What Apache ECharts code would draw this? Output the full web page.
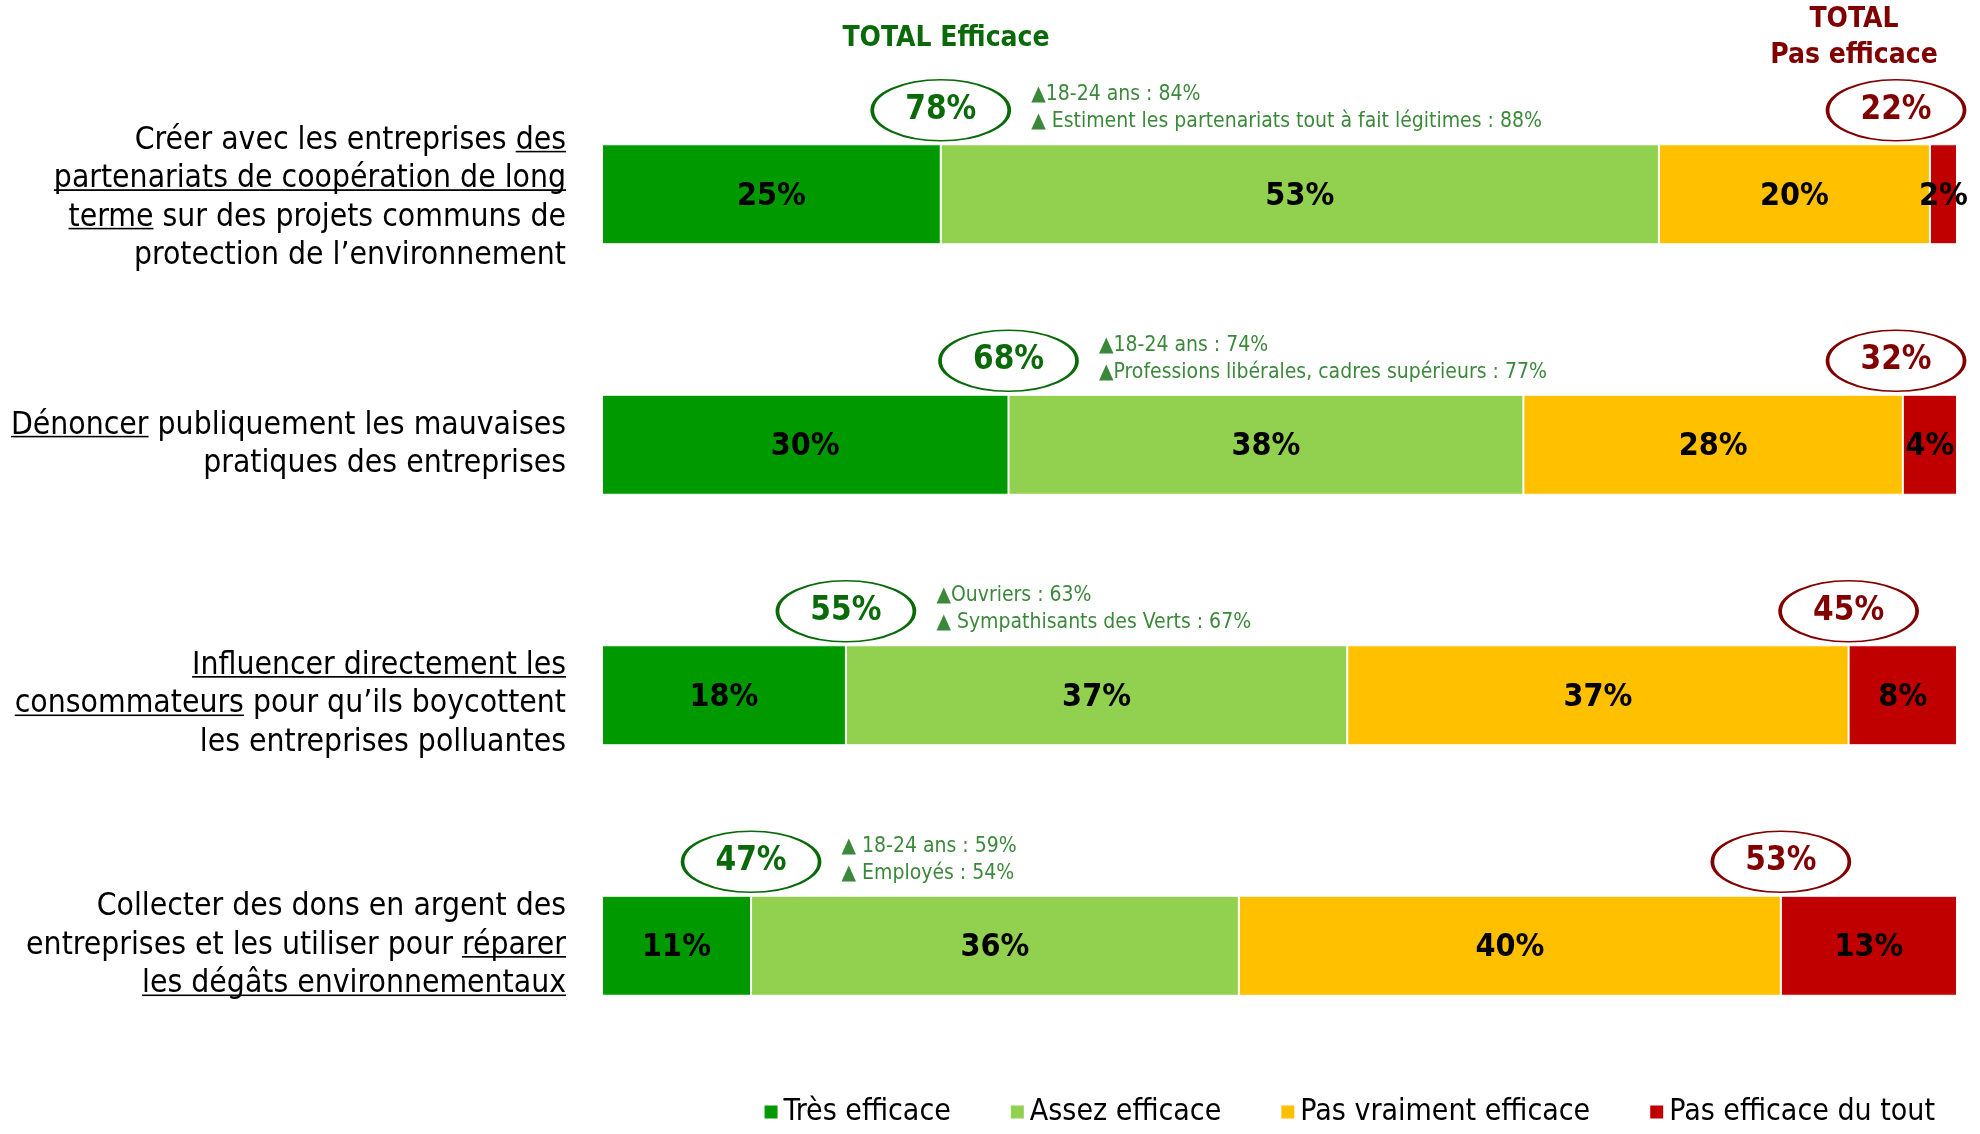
<!DOCTYPE html>
<html><head><meta charset="utf-8">
<script src="https://cdn.jsdelivr.net/npm/echarts@6/dist/echarts.min.js"></script>
<style>html,body{margin:0;padding:0;background:#fff}#c{width:1980px;height:1134px}</style>
</head><body><div id="c"></div>
<script>
// ---- data ----
// [text] marks underlined parts
const categories = [
  "Créer avec les entreprises [des]\n[partenariats de coopération de long]\n[terme] sur des projets communs de\nprotection de l’environnement",
  "[Dénoncer] publiquement les mauvaises\npratiques des entreprises",
  "[Influencer directement les]\n[consommateurs] pour qu’ils boycottent\nles entreprises polluantes",
  "Collecter des dons en argent des\nentreprises et les utiliser pour [réparer]\n[les dégâts environnementaux]"
];
const seriesNames = ["Très efficace", "Assez efficace", "Pas vraiment efficace", "Pas efficace du tout"];
const tresEfficace = [25, 30, 18, 11];
const assezEfficace = [53, 38, 37, 36];
const pasVraimentEfficace = [20, 28, 37, 40];
const pasEfficaceDuTout = [2, 4, 8, 13];
const totalEfficace = [78, 68, 55, 47];
const totalPasEfficace = [22, 32, 45, 53];
const annotations = [
  ["▲18-24 ans : 84%", "▲ Estiment les partenariats tout à fait légitimes : 88%"],
  ["▲18-24 ans : 74%", "▲Professions libérales, cadres supérieurs : 77%"],
  ["▲Ouvriers : 63%", "▲ Sympathisants des Verts : 67%"],
  ["▲ 18-24 ans : 59%", "▲ Employés : 54%"]
];
const headingEfficace = "TOTAL Efficace";
const headingPasEfficace = "TOTAL\nPas efficace";

// ---- styles ----
const FONT = "'DejaVu Sans Condensed', 'DejaVu Sans', sans-serif";
const colors = ["#009900", "#92D050", "#FFC000", "#C00000"];
const GREEN = "#0a6a0a";
const DARKRED = "#800000";
const labelNudge = [8, 0, 18, 0]; // top padding of each category label (layout only)

const ul = document.createElement('canvas');
ul.width = 8; ul.height = 39;
const uctx = ul.getContext('2d');
uctx.fillStyle = '#000';
uctx.fillRect(0, 32, 8, 2);

function toRich(cat) {
  return cat.split('\n').map(line => {
    const parts = line.split(/\[([^\]]*)\]/);
    let out = '';
    parts.forEach((p, k) => {
      if (!p) return;
      out += (k % 2 === 1 ? '{u|' : '{n|') + p + '}';
    });
    return out;
  }).join('\n');
}

const chart = echarts.init(document.getElementById('c'), null, {renderer: 'canvas'});

const barSeries = [tresEfficace, assezEfficace, pasVraimentEfficace, pasEfficaceDuTout].map((vals, k) => ({
  type: 'bar',
  name: seriesNames[k],
  stack: 'total',
  barWidth: 100,
  data: vals,
  itemStyle: {color: colors[k], borderColor: '#ffffff', borderWidth: 1},
  label: {
    show: true, position: 'inside', formatter: p => p.value + '%', offset: [0, 2],
    fontFamily: FONT, fontSize: 32, fontWeight: 'bold', color: '#000'
  },
  emphasis: {disabled: true},
  animation: false
}));

const ellipsePath = 'path://M0,30 A68,30 0 1,1 136,30 A68,30 0 1,1 0,30 Z';

const greenEllipses = {
  type: 'scatter',
  data: categories.map((c, i) => [tresEfficace[i], i]),
  symbol: ellipsePath,
  symbolSize: [137, 61],
  symbolOffset: [0, -84],
  itemStyle: {color: '#ffffff', borderColor: GREEN, borderWidth: 2.5, opacity: 1},
  label: {
    show: true, position: 'inside', formatter: p => totalEfficace[p.dataIndex] + '%',
    fontFamily: FONT, fontSize: 33, fontWeight: 'bold', color: GREEN
  },
  emphasis: {disabled: true},
  silent: true, animation: false, z: 5
};

const redEllipses = {
  type: 'scatter',
  data: categories.map((c, i) => [Math.min(100 - pasEfficaceDuTout[i], 95.5), i]),
  symbol: ellipsePath,
  symbolSize: [137, 61],
  symbolOffset: [0, -84],
  itemStyle: {color: '#ffffff', borderColor: DARKRED, borderWidth: 2.5, opacity: 1},
  label: {
    show: true, position: 'inside', formatter: p => totalPasEfficace[p.dataIndex] + '%',
    fontFamily: FONT, fontSize: 33, fontWeight: 'bold', color: DARKRED
  },
  emphasis: {disabled: true},
  silent: true, animation: false, z: 5
};

const annotSeries = {
  type: 'scatter',
  data: categories.map((c, i) => [tresEfficace[i], i]),
  symbol: 'rect',
  symbolSize: 1,
  symbolOffset: [0, -86],
  itemStyle: {color: 'rgba(0,0,0,0)'},
  label: {
    show: true, position: 'right', distance: 90,
    formatter: p => annotations[p.dataIndex].join('\n'),
    fontFamily: FONT, fontSize: 21, lineHeight: 27, color: GREEN, align: 'left', verticalAlign: 'middle'
  },
  emphasis: {disabled: true},
  silent: true, animation: false, z: 5
};

chart.setOption({
  animation: false,
  backgroundColor: '#ffffff',
  grid: {left: 602, right: 23, top: 69, bottom: 63, containLabel: false},
  xAxis: {
    type: 'value', min: 0, max: 100, show: false
  },
  yAxis: {
    type: 'category', inverse: true,
    data: categories.map((c, i) => ({value: c, textStyle: {padding: [labelNudge[i], 0, 0, 0]}})),
    axisLine: {show: false}, axisTick: {show: false}, splitLine: {show: false},
    axisLabel: {
      interval: 0, margin: 36, align: 'right',
      formatter: v => toRich(v),
      rich: {
        n: {fontFamily: FONT, fontSize: 31.6, lineHeight: 38.5, color: '#000'},
        u: {fontFamily: FONT, fontSize: 31.6, lineHeight: 38.5, color: '#000', backgroundColor: {image: ul}}
      }
    }
  },
  legend: {
    data: seriesNames,
    right: 40, top: 1092,
    icon: 'rect', itemWidth: 15, itemHeight: 15, itemGap: 58,
    textStyle: {fontFamily: FONT, fontSize: 30, color: '#000'},
    selectedMode: false
  },
  graphic: [
    {type: 'text', x: 946, y: 39, style: {text: headingEfficace, fontFamily: FONT, fontSize: 28, fontWeight: 'bold', fill: GREEN, textAlign: 'center', textVerticalAlign: 'middle'}},
    {type: 'text', x: 1854, y: 38, style: {text: headingPasEfficace, fontFamily: FONT, fontSize: 28, lineHeight: 36, fontWeight: 'bold', fill: DARKRED, textAlign: 'center', textVerticalAlign: 'middle'}}
  ],
  series: [...barSeries, greenEllipses, redEllipses, annotSeries]
});
</script>
</body></html>
